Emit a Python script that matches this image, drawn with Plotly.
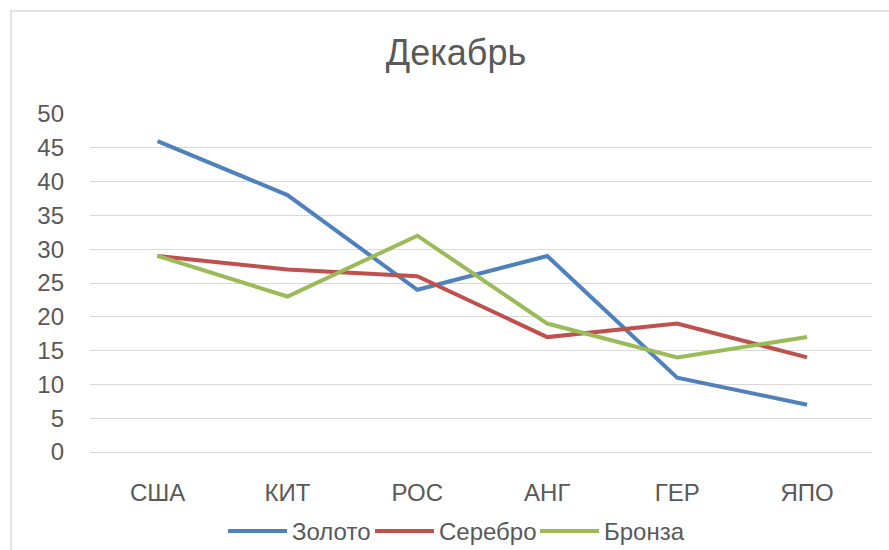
import plotly.graph_objects as go

# Medal table data
countries = ["США", "КИТ", "РОС", "АНГ", "ГЕР", "ЯПО"]
gold = [46, 38, 24, 29, 11, 7]
silver = [29, 27, 26, 17, 19, 14]
bronze = [29, 23, 32, 19, 14, 17]
y_ticks = list(range(0, 55, 5))

series = [
    ("Золото", gold, "#4F81BD"),
    ("Серебро", silver, "#C0504D"),
    ("Бронза", bronze, "#9BBB59"),
]

FONT = "Liberation Sans, Arial, sans-serif"
TEXT = "#595959"

W, H = 889, 550
ML, MR, MT, MB = 90, 17, 114, 98
pw = W - ML - MR
ph = H - MT - MB


def px_x(p):
    return (p - ML) / pw


def px_y(p):
    return (H - MB - p) / ph


fig = go.Figure()
for name, vals, color in series:
    fig.add_trace(go.Scatter(x=countries, y=vals, name=name, mode="lines",
                             line=dict(color=color, width=4),
                             showlegend=False))

# chart-area frame
fig.add_shape(type="rect", xref="paper", yref="paper",
              x0=px_x(11), x1=px_x(930), y0=px_y(590), y1=px_y(11),
              line=dict(color="#D9D9D9", width=1.5), layer="below")

# legend: long line swatch followed by the series name
legend_x = [228, 375, 540]
legend_y = px_y(531)
for (name, _, color), x0 in zip(series, legend_x):
    fig.add_shape(type="line", xref="paper", yref="paper",
                  x0=px_x(x0), x1=px_x(x0 + 59), y0=legend_y, y1=legend_y,
                  line=dict(color=color, width=4))
    fig.add_annotation(text=name, xref="paper", yref="paper",
                       x=px_x(x0 + 62), y=legend_y, xanchor="left",
                       yanchor="middle", showarrow=False,
                       font=dict(family=FONT, size=24, color=TEXT))

fig.update_layout(
    width=W, height=H,
    margin=dict(l=ML, r=MR, t=MT, b=MB, autoexpand=False),
    paper_bgcolor="white", plot_bgcolor="white",
    title=dict(text="Декабрь", xref="paper", x=px_x(456), xanchor="center",
               yref="container", y=1 - 52 / H, yanchor="middle",
               font=dict(family=FONT, size=36, color=TEXT)),
    showlegend=False,
    xaxis=dict(showgrid=False, showline=False, zeroline=False, ticks="",
               range=[-0.52, 5.5], fixedrange=True, ticklabelstandoff=24,
               tickfont=dict(family=FONT, size=24, color=TEXT)),
    yaxis=dict(range=[0, 50], tickvals=y_ticks, showgrid=True,
               gridcolor="#D9D9D9", gridwidth=1, zeroline=True,
               zerolinecolor="#D9D9D9", zerolinewidth=1,
               showline=False, ticks="", ticklabelstandoff=25,
               tickfont=dict(family=FONT, size=24, color=TEXT)),
)

fig.write_html("out.html")
